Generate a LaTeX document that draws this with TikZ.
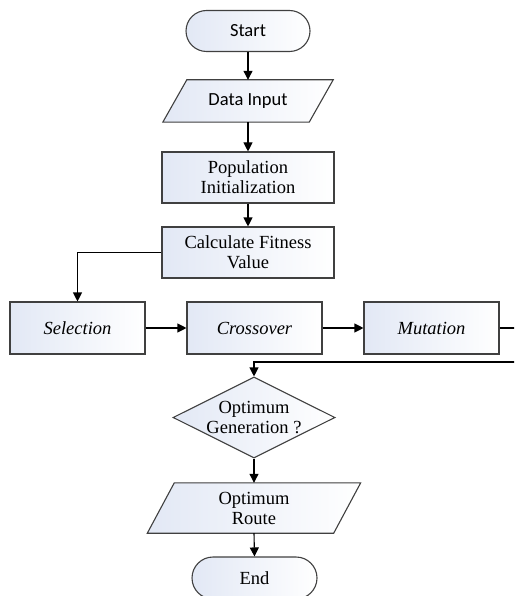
\documentclass[tikz,border=0pt]{standalone}
\usepackage{fontspec}
\setmainfont{Liberation Serif}
\newfontfamily\calibrifont{Carlito}
\usetikzlibrary{shapes.geometric,arrows.meta}
\definecolor{shadeblue}{RGB}{226,232,245}
\definecolor{edgegray}{RGB}{64,64,64}
\begin{document}
\begin{tikzpicture}[x=1pt,y=-1pt,
  txt/.style={font=\fontsize{18.5}{20}\selectfont, align=center, inner sep=0pt},
  fillbox/.style={draw=edgegray, line width=1.1pt, left color=shadeblue, right color=white},
  procbox/.style={fillbox, txt, rectangle, minimum height=51pt},
  termbox/.style={fillbox, txt, rectangle, rounded corners=20.5pt, minimum width=124pt, minimum height=41pt},
  plain/.style={txt, minimum height=42pt},
  arr/.style={-{Triangle[length=9pt,width=9pt]}, line width=1.1pt, black},
  itfont/.style={font=\fontsize{18.5}{20}\selectfont\itshape}]
\useasboundingbox (0,0) rectangle (514,596);
\clip (0,0) rectangle (514,596);
% Start
\node[termbox, font=\calibrifont\fontsize{18.5}{20}\selectfont] (start) at (248,31) {Start};
% Data input parallelogram
\node[plain, minimum width=146pt, minimum height=42pt] (data) at (248,101) {};
\draw[fillbox] ([xshift=12pt]data.north west) -- ([xshift=12pt]data.north east) -- ([xshift=-12pt]data.south east) -- ([xshift=-12pt]data.south west) -- cycle;
\node[txt, font=\calibrifont\fontsize{18.5}{20}\selectfont] (datalbl) at (data) {Data Input};
% Population
\node[procbox, minimum width=172pt] (pop) at (248,177.5) {Population\\Initialization};
% Calculate
\node[procbox, minimum width=172pt] (calc) at (248,252.5) {Calculate Fitness\\Value};
% GA operators
\node[procbox, minimum width=135pt, minimum height=52pt, itfont] (sel) at (77.5,328) {Selection};
\node[procbox, minimum width=135pt, minimum height=52pt, itfont] (cross) at (254.5,328) {Crossover};
\node[procbox, minimum width=135pt, minimum height=52pt, itfont] (mut) at (431.5,328) {Mutation};
% Decision
\node[fillbox, diamond, minimum width=162pt, minimum height=81pt, inner sep=0pt] (dec) at (254,417.5) {};
\node[txt] (declbl) at (254,417.5) {Optimum\\Generation ?};
% Route parallelogram
\node[plain, minimum width=186pt, minimum height=50pt] (route) at (254,508) {};
\draw[fillbox] ([xshift=13.5pt]route.north west) -- ([xshift=13.5pt]route.north east) -- ([xshift=-13.5pt]route.south east) -- ([xshift=-13.5pt]route.south west) -- cycle;
\node[txt] (routelbl) at (route) {Optimum\\Route};
% End
\node[termbox, minimum width=125pt, minimum height=42pt, rounded corners=21pt] (end) at (254.5,578) {End};
% connectors
\coordinate (r1) at (520,328);
\coordinate (r2) at (520,362);
\draw[arr] (start) -- (data);
\draw[arr] (data) -- (pop);
\draw[arr] (pop) -- (calc);
\draw[arr] (calc.west) -| (sel.north);
\draw[arr] (sel) -- (cross);
\draw[arr] (cross) -- (mut);
\draw[arr] (mut.east) -- (r1) -- (r2) -| (dec.north);
\draw[arr] (dec.south) -- (route.north);
\draw[arr] (route.south) -- (end.north);
\end{tikzpicture}
\end{document}
